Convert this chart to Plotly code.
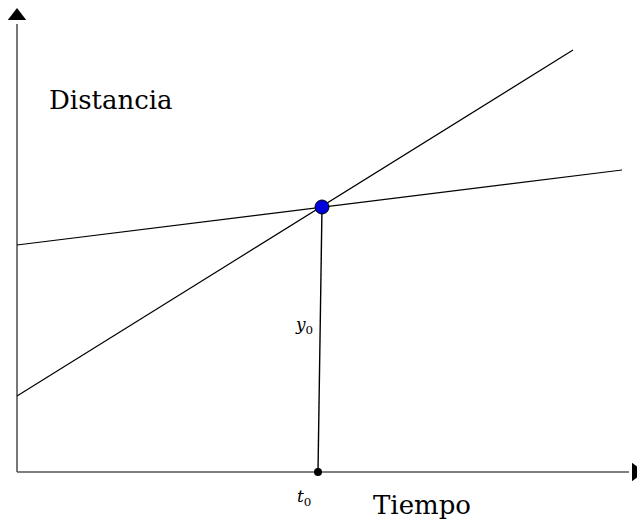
import plotly.graph_objects as go

# Diagram data (units: pixels relative to origin of the axes)
shallow_x = [0, 605]
shallow_y = [227, 302]
steep_x = [0, 556]
steep_y = [76, 422]
meet_x = [305]
meet_y = [265]
drop_x = [305, 301]
drop_y = [265, 0]
foot_x = [301]
foot_y = [0]
axis_y_x = [0, 0]
axis_y_y = [0, 448]
axis_x_x = [0, 612]
axis_x_y = [0, 0]

fig = go.Figure()
axis_col = "#555555"
fig.add_trace(go.Scatter(x=axis_y_x, y=axis_y_y, mode="lines",
                         line=dict(color=axis_col, width=1.6), hoverinfo="skip"))
fig.add_trace(go.Scatter(x=axis_x_x, y=axis_x_y, mode="lines",
                         line=dict(color=axis_col, width=1.6), hoverinfo="skip"))
fig.add_trace(go.Scatter(x=[0], y=[456], mode="markers",
                         marker=dict(symbol="triangle-up", size=16, color="black"), hoverinfo="skip"))
fig.add_trace(go.Scatter(x=[619], y=[0], mode="markers",
                         marker=dict(symbol="triangle-right", size=16, color="black"), hoverinfo="skip"))
fig.add_trace(go.Scatter(x=shallow_x, y=shallow_y, mode="lines",
                         line=dict(color="black", width=1.2)))
fig.add_trace(go.Scatter(x=steep_x, y=steep_y, mode="lines",
                         line=dict(color="black", width=1.2)))
fig.add_trace(go.Scatter(x=drop_x, y=drop_y, mode="lines",
                         line=dict(color="black", width=1.4)))
fig.add_trace(go.Scatter(x=foot_x, y=foot_y, mode="markers",
                         marker=dict(size=8, color="black")))
fig.add_trace(go.Scatter(x=meet_x, y=meet_y, mode="markers",
                         marker=dict(size=14, color="#0000dd", line=dict(color="black", width=1))))

serif = "DejaVu Serif"
fig.add_annotation(x=94, y=372, text="Distancia", showarrow=False,
                   font=dict(family=serif, size=26, color="black"))
fig.add_annotation(x=405, y=-33, text="Tiempo", showarrow=False,
                   font=dict(family=serif, size=26, color="black"))
fig.add_annotation(x=287, y=147, text="<i>y</i><sub>0</sub>", showarrow=False,
                   font=dict(family=serif, size=17, color="black"))
fig.add_annotation(x=287, y=-25, text="<i>t</i><sub>0</sub>", showarrow=False,
                   font=dict(family=serif, size=17, color="black"))

fig.update_layout(
    width=637, height=521, margin=dict(l=0, r=0, t=0, b=0),
    plot_bgcolor="white", paper_bgcolor="white", showlegend=False,
    xaxis=dict(range=[-17, 620], visible=False, fixedrange=True),
    yaxis=dict(range=[-49, 472], visible=False, fixedrange=True),
)
fig.write_html("out.html", config={"displayModeBar": False},
               post_script="document.body.style.margin='0';document.body.style.overflow='hidden';")
